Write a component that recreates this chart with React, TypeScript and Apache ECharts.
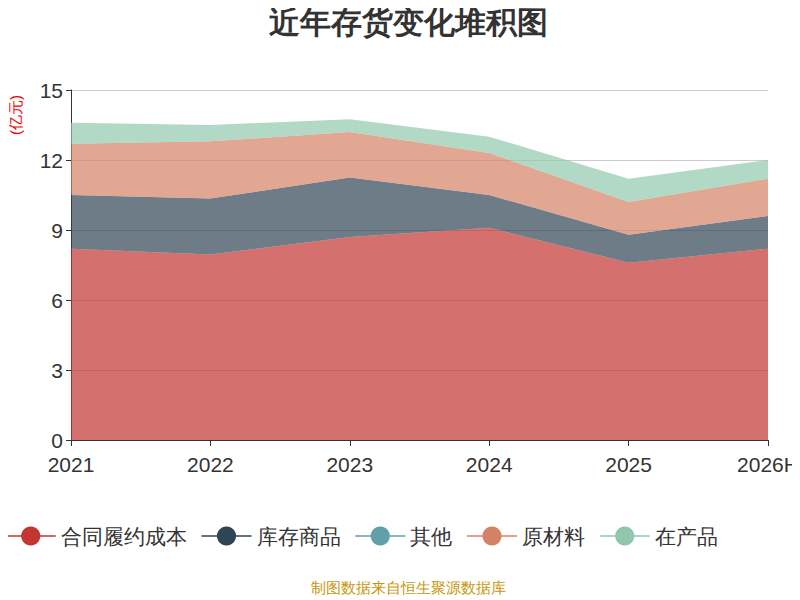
import React, { useEffect, useRef } from 'react';
import * as echarts from 'echarts';

const years = ['2021', '2022', '2023', '2024', '2025', '2026H'];
const contractCost = [8.2, 7.95, 8.7, 9.1, 7.6, 8.2];
const goods = [2.3, 2.4, 2.55, 1.4, 1.2, 1.4];
const other = [0, 0, 0, 0, 0, 0];
const material = [2.2, 2.45, 1.95, 1.8, 1.4, 1.6];
const wip = [0.9, 0.7, 0.55, 0.7, 1.0, 0.8];

const seriesDefs: [string, number[], string][] = [
    ['合同履约成本', contractCost, '#c23531'],
    ['库存商品', goods, '#2f4554'],
    ['其他', other, '#61a0a8'],
    ['原材料', material, '#d48265'],
    ['在产品', wip, '#91c7ae'],
];

const App: React.FC = () => {
    const chartRef = useRef<HTMLDivElement>(null);

    useEffect(() => {
        if (chartRef.current) {
            const myChart = echarts.init(chartRef.current, null, { renderer: 'svg' });
            const option = {
                animation: false,
                title: {
                    text: '近年存货变化堆积图',
                    left: 'center',
                    top: -6,
                    textStyle: { fontSize: 31, fontWeight: 'bold', color: '#333' },
                },
                legend: {
                    type: 'scroll',
                    top: 512,
                    left: -8,
                    right: 0,
                    itemWidth: 50,
                    itemHeight: 24,
                    itemGap: 14,
                    lineStyle: { width: 1.5 },
                    textStyle: { fontSize: 21, color: '#333' },
                    pageTextStyle: { fontSize: 21, color: '#333' },
                    pageIconSize: 22,
                    pageIconColor: '#2f4554',
                    pageIconInactiveColor: '#aaa',
                    data: seriesDefs.map((s) => s[0]),
                },
                grid: { left: 60, right: 40, top: 82, bottom: 168 },
                xAxis: {
                    type: 'category',
                    data: years,
                    boundaryGap: false,
                    axisLine: { lineStyle: { color: '#333' } },
                    axisTick: { length: 6 },
                    axisLabel: { fontSize: 21, color: '#333', margin: 14 },
                },
                yAxis: {
                    type: 'value',
                    min: 0,
                    max: 15,
                    interval: 3,
                    name: '(亿元)',
                    nameLocation: 'end',
                    nameRotate: 90,
                    nameGap: -5,
                    nameTextStyle: { color: '#e00', fontSize: 15, align: 'right', verticalAlign: 'bottom', padding: [0, 0, 48, 0] },
                    axisLine: { show: true, lineStyle: { color: '#333' } },
                    axisTick: { show: true },
                    axisLabel: { fontSize: 21, color: '#333' },
                    splitLine: { lineStyle: { color: '#ccc' } },
                },
                series: seriesDefs.map(([name, data, color]) => ({
                    name,
                    type: 'line',
                    stack: 'total',
                    data,
                    symbol: 'circle',
                    showSymbol: false,
                    symbolSize: 8,
                    itemStyle: { color },
                    lineStyle: { width: 0 },
                    areaStyle: { color, opacity: 0.7 },
                })),
                graphic: [
                    {
                        type: 'text',
                        left: 'center',
                        top: 572,
                        style: { text: '制图数据来自恒生聚源数据库', fill: '#c8960c', fontSize: 15 },
                    },
                ],
            };
            myChart.setOption(option);
            return () => {
                myChart.dispose();
            };
        }
    }, []);

    return <div ref={chartRef} style={{ width: '800px', height: '600px' }} />;
};

export default App;
